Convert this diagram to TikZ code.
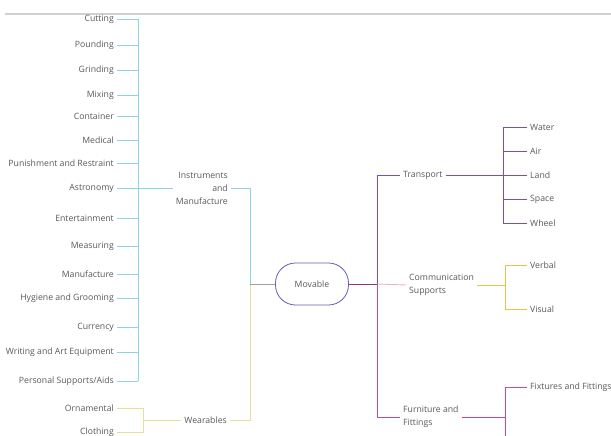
\documentclass[tikz,border=0pt]{standalone}
\usepackage{fontspec}
\newfontfamily\lf{Open Sans}
\definecolor{cyanline}{RGB}{142,213,224}
\definecolor{yellowleft}{RGB}{230,222,154}
\definecolor{violetline}{RGB}{106,76,230}
\definecolor{yellowright}{RGB}{230,196,72}
\definecolor{pinkline}{RGB}{208,74,134}
\definecolor{pinklight}{RGB}{235,176,204}
\definecolor{movableline}{RGB}{106,90,180}
\definecolor{topline}{RGB}{208,208,208}
\definecolor{trunkline}{RGB}{138,58,122}
\definecolor{grayline}{RGB}{160,160,160}
\tikzset{
  lbl/.style={font=\lf\fontsize{8.7}{13}\selectfont, text opacity=0.65, inner ysep=1pt, inner xsep=3pt},
  lleaf/.style={lbl, anchor=east},
  rleaf/.style={lbl, anchor=west},
  conn/.style={line width=0.9pt},
}
\begin{document}
\begin{tikzpicture}[x=1pt,y=-1pt]
\useasboundingbox (0,0) rectangle (611,436);
\draw[draw=topline, line width=1.5pt] (5,14) -- (611,14);

% centre
\node[draw=movableline, line width=0.8pt, rounded corners=20pt, minimum width=73pt, minimum height=42pt, lbl] (mov) at (312,284) {Movable};

% left leaves
\foreach \n/\t/\y in {l1/Cutting/19, l2/Pounding/45, l3/Grinding/70, l4/Mixing/95, l5/Container/116, l6/Medical/140, l7/Punishment and Restraint/163, l8/Astronomy/188, l9/Entertainment/218, l10/Measuring/246, l11/Manufacture/274, l12/Hygiene and Grooming/298, l13/Currency/327, l14/Writing and Art Equipment/352, l15/{Personal Supports/Aids}/381}
  {\node[lleaf] (\n) at (117,\y) {\t};
   \coordinate (b\n) at (138,\y);
   \draw[conn, draw=cyanline] (\n.east) -- (b\n);}
\draw[conn, draw=cyanline] (bl1) -- (bl15);

\node[lbl, align=right, anchor=east] (inst) at (231,188) {Instruments\\and\\Manufacture};
\draw[conn, draw=cyanline] (bl8) -- (inst.west);

\node[lleaf] (o1) at (117,408) {Ornamental};
\node[lleaf] (o2) at (117,432) {Clothing};
\coordinate (bo1) at (143,408);
\coordinate (bo2) at (143,432);
\draw[conn, draw=yellowleft] (o1.east) -- (bo1) -- (bo2) -- (o2.east);
\node[lbl, anchor=east] (wear) at (230,420) {Wearables};
\coordinate (bw) at (143,420);
\draw[conn, draw=yellowleft] (bw) -- (wear.west);

% left trunk
\coordinate (lt) at (250,284);
\coordinate (lti) at (250,188);
\coordinate (ltw) at (250,420);
\draw[conn, draw=cyanline] (inst.east) -- (lti) -- (lt);
\draw[conn, draw=yellowleft] (wear.east) -- (ltw) -- (lt);
\draw[conn, draw=grayline] (lt) -- (mov.west);

% right trunk
\coordinate (rt) at (377,284);
\coordinate (rtt) at (377,175);
\draw[conn, draw=trunkline] (mov.east) -- (rt);
\draw[conn, draw=violetline] (rt) -- (rtt);

% Transport
\node[rleaf] (tr) at (400,175) {Transport};
\draw[conn, draw=violetline] (rtt) -- (tr.west);
\coordinate (bt) at (503,175);
\draw[conn, draw=violetline] (tr.east) -- (bt);
\foreach \n/\t/\y in {t1/Water/127, t2/Air/151, t3/Land/175, t4/Space/199, t5/Wheel/223}
  {\node[rleaf] (\n) at (527,\y) {\t};
   \coordinate (b\n) at (503,\y);
   \draw[conn, draw=violetline] (b\n) -- (\n.west);}
\draw[conn, draw=violetline] (bt1) -- (bt5);

% Communication
\node[lbl, align=left, anchor=west] (com) at (406,285) {Communication\\Supports};
\draw[conn, draw=pinklight] (rt) -- (com.west);
\coordinate (bc) at (505,285);
\draw[conn, draw=yellowright] (com.east) -- (bc);
\node[rleaf] (c1) at (527,265) {Verbal};
\node[rleaf] (c2) at (527,309) {Visual};
\coordinate (bc1) at (505,265);
\coordinate (bc2) at (505,309);
\draw[conn, draw=yellowright] (c1.west) -- (bc1) -- (bc2) -- (c2.west);

% Furniture
\node[lbl, align=left, anchor=west] (fur) at (400,417) {Furniture and\\Fittings};
\coordinate (bf) at (505,417);
\coordinate (rtf) at (377,417);
\draw[conn, draw=pinkline] (rt) -- (rtf) -- (fur.west);
\draw[conn, draw=pinkline] (fur.east) -- (bf);
\node[rleaf] (f1) at (527,387) {Fixtures and Fittings};
\coordinate (bf1) at (505,387);
\coordinate (bf2) at (505,440);
\draw[conn, draw=pinkline] (f1.west) -- (bf1) -- (bf2);
\end{tikzpicture}
\end{document}
